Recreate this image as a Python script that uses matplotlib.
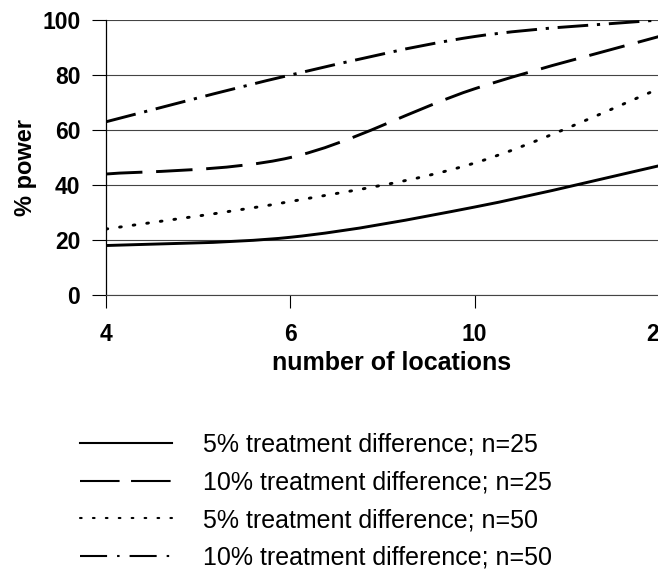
import numpy as np
import matplotlib
matplotlib.use("Agg")
import matplotlib.pyplot as plt
from matplotlib.path import Path
from matplotlib.patches import PathPatch
from matplotlib.lines import Line2D

# number of locations (categorical x axis)
locations = ["4", "6", "10", "20"]

# % power per series
power_5_n25 = [18, 21, 32, 47]
power_10_n25 = [44, 50, 75, 94]
power_5_n50 = [24, 34, 48, 75]
power_10_n50 = [63, 80, 94, 100]

labels = [
    "5% treatment difference; n=25",
    "10% treatment difference; n=25",
    "5% treatment difference; n=50",
    "10% treatment difference; n=50",
]

plt.rcParams["font.family"] = ["Liberation Sans", "DejaVu Sans"]

# dash patterns for the plotted curves and for the legend keys
line_styles = ["-", (0, (12.5, 4.7)), (0, (0.6, 4.1)), (0, (10.5, 3, 1.1, 3))]
key_styles = ["-", (0, (19, 5.5)), (0, (0.8, 5.4)), (0, (13, 4.8, 1.2, 4.8))]
caps = ["butt", "butt", "round", "butt"]


def smooth_path(xs, ys):
    # Excel-style smoothed line: cubic bezier with catmull-rom control points
    pts = np.column_stack([xs, ys]).astype(float)
    verts = [pts[0]]
    codes = [Path.MOVETO]
    n = len(pts)
    for i in range(n - 1):
        p0 = pts[i - 1] if i > 0 else pts[i]
        p1 = pts[i]
        p2 = pts[i + 1]
        p3 = pts[i + 2] if i + 2 < n else pts[i + 1]
        c1 = p1 + (p2 - p0) / 6.0
        c2 = p2 - (p3 - p1) / 6.0
        verts += [c1, c2, p2]
        codes += [Path.CURVE4] * 3
    return Path(verts, codes)


fig = plt.figure(figsize=(6.58, 5.69), dpi=100)
ax = fig.add_axes([0.1611, 0.4815, 0.8404, 0.4833])

x = np.arange(len(locations))
series = [power_5_n25, power_10_n25, power_5_n50, power_10_n50]
for vals, ls, cap in zip(series, line_styles, caps):
    patch = PathPatch(smooth_path(x, vals), facecolor="none", edgecolor="black",
                      linewidth=2.1, linestyle=ls, capstyle=cap)
    ax.add_patch(patch)

ax.set_xlim(0, 3)
ax.set_ylim(0, 100)
ax.set_yticks(range(0, 101, 20))
ax.set_xticks(x)
ax.set_xticklabels(locations)
ax.grid(axis="y", color="#444444", linewidth=0.8)
ax.set_axisbelow(True)
for side in ["top", "right"]:
    ax.spines[side].set_visible(False)
ax.spines["bottom"].set_color("#444444")
ax.spines["bottom"].set_linewidth(0.8)
ax.spines["left"].set_linewidth(0.9)
ax.tick_params(axis="y", length=10, width=0.8, pad=8.5, labelsize=16.5)
ax.tick_params(axis="x", length=9.4, width=0.8, pad=11, labelsize=16.5)
for t in ax.get_xticklabels() + ax.get_yticklabels():
    t.set_fontweight("bold")

ax.set_ylabel("% power", fontsize=17, fontweight="bold")
ax.set_xlabel("number of locations", fontsize=18, fontweight="bold")
ax.yaxis.set_label_coords(-0.125, 0.465)
ax.xaxis.set_label_coords(0.517, -0.205)

handles = [Line2D([], [], color="black", linewidth=1.5, linestyle=ls,
                  dash_capstyle=cap) for ls, cap in zip(key_styles, caps)]
fig.legend(handles, labels, loc="upper left", bbox_to_anchor=(0.1216, 0.2395),
           frameon=False, fontsize=18, handlelength=3.68, handletextpad=1.24,
           labelspacing=0.55, borderaxespad=0, borderpad=0)

fig.savefig("out.png", dpi=100)
